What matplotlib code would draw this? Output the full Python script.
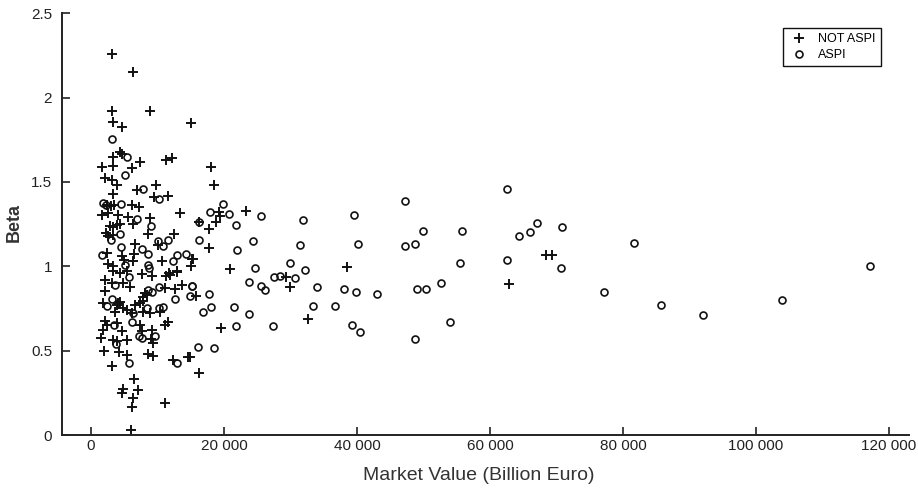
import numpy as np
import matplotlib
matplotlib.use("Agg")
import matplotlib.pyplot as plt
from matplotlib.ticker import FuncFormatter

#--- data (market value in billion euro, beta)
not_aspi_mv = [3160, 6270, 3210, 8820, 3260, 4710, 15040, 4410, 4600, 3310, 7370, 11330, 12230, 1650, 3350, 6120,
               2150, 3110, 3860, 3260, 6960, 9780, 11580, 9480, 2360, 2960, 3460, 6210, 7170, 1650, 2600, 4110,
               5610, 6360, 8870, 13390, 8620, 2860, 3360, 3860, 4360, 2260, 3260, 2600, 10030, 12530, 6620, 6510,
               2450, 4610, 4960, 10630, 15150, 2600, 3360, 6360, 11780, 12890,
               3360, 4360, 5370, 7620, 9130, 11280, 11880, 12890, 2110, 3110, 4860, 5860, 8120, 8470, 7820, 11130,
               12630, 13640, 2110, 1860, 4110, 4360, 3860, 3610, 4860, 5370, 6120, 6620, 7370, 7870, 7870, 8870,
               10380, 2110, 2360, 1860, 3860, 4610, 7370, 7620, 9130, 9030, 9280, 11130, 11630, 1460, 3360, 3860,
               5370, 1960, 4260, 5370, 8620, 9280, 3110, 12290, 14640, 6470, 4860, 4610, 7120, 6270, 6120, 11130,
               6020,
               18000, 18450, 19250, 19400, 23300, 16250, 17800, 18850, 17750, 15300, 15050, 20900, 38450, 29400,
               30000, 15800, 32600, 19550, 16300, 14900,
               68500, 69400, 62800]
not_aspi_beta = [2.26, 2.15, 1.92, 1.92, 1.855, 1.825, 1.85, 1.68, 1.663, 1.65, 1.62, 1.63, 1.643, 1.59, 1.597, 1.585,
                 1.524, 1.512, 1.48, 1.43, 1.455, 1.48, 1.417, 1.413, 1.366, 1.356, 1.366, 1.366, 1.35, 1.306, 1.316, 1.302,
                 1.293, 1.251, 1.287, 1.316, 1.192, 1.237, 1.235, 1.243, 1.251, 1.197, 1.188, 1.178, 1.128, 1.192, 1.132, 1.073,
                 1.079, 1.059, 1.039, 1.029, 1.045, 1.015, 1.0, 1.029, 0.96, 0.97,
                 0.97, 0.96, 0.97, 0.956, 0.94, 0.944, 0.95, 0.964, 0.92, 0.9, 0.9, 0.88, 0.84, 0.83, 0.82, 0.871,
                 0.865, 0.89, 0.851, 0.782, 0.78, 0.79, 0.77, 0.732, 0.752, 0.742, 0.722, 0.772, 0.782, 0.792, 0.732, 0.722,
                 0.732, 0.673, 0.653, 0.624, 0.663, 0.614, 0.653, 0.614, 0.624, 0.568, 0.548, 0.653, 0.667, 0.574, 0.564, 0.56,
                 0.564, 0.5, 0.495, 0.475, 0.481, 0.469, 0.412, 0.445, 0.465, 0.333, 0.271, 0.248, 0.267, 0.218, 0.168, 0.188,
                 0.03,
                 1.59, 1.48, 1.324, 1.30, 1.326, 1.26, 1.22, 1.26, 1.11, 1.043, 1.0, 0.984, 0.996, 0.934,
                 0.877, 0.827, 0.689, 0.637, 0.37, 0.465,
                 1.07, 1.067, 0.895]

aspi_mv = [3160, 5460, 5110, 7870, 10180, 1860, 2260, 4510, 6960, 8970, 4360, 2960, 10030, 10780, 11630, 4460,
           7670, 8620, 12890, 14290, 1610, 12290, 5110, 8620, 8770,
           5760, 3610, 8570, 9130, 10230, 15150, 12630, 2450, 3110, 6360, 8370, 10230, 10780, 3460, 6120, 7270,
           7620, 9630, 3760, 5760, 12890,
           19850, 17900, 20800, 25500, 16250, 21750, 31900, 16250, 22000, 24400, 31400, 24700, 29900, 32200,
           27600, 28500, 30700, 23800, 25500, 26100, 34000, 38100, 15200, 14900, 17800, 16800, 18000, 21500,
           23700, 33400, 36700, 21850, 27400, 16100, 18500,
           39500, 40200, 47300, 50000, 47200, 48800, 55800, 55500, 62600, 64300, 66100, 67100, 70900, 62600,
           70700, 81600, 77200, 39900, 43000, 49000, 50400, 52700, 39300, 40500, 54000, 48800,
           117200, 85700, 92000, 103900]
aspi_beta = [1.755, 1.647, 1.544, 1.459, 1.397, 1.376, 1.362, 1.372, 1.281, 1.237, 1.192, 1.158, 1.152, 1.118, 1.158, 1.112,
             1.103, 1.073, 1.065, 1.073, 1.069, 1.029, 1.01, 1.01, 0.99,
             0.936, 0.89, 0.86, 0.845, 0.877, 0.885, 0.806, 0.762, 0.806, 0.722, 0.752, 0.752, 0.758, 0.653, 0.667, 0.588,
             0.578, 0.588, 0.54, 0.426, 0.426,
             1.37, 1.32, 1.31, 1.30, 1.26, 1.247, 1.277, 1.154, 1.094, 1.148, 1.124, 0.99, 1.017, 0.976,
             0.937, 0.94, 0.928, 0.908, 0.885, 0.861, 0.879, 0.867, 0.885, 0.827, 0.837, 0.73, 0.756, 0.756,
             0.718, 0.762, 0.766, 0.647, 0.647, 0.52, 0.513,
             1.305, 1.13, 1.39, 1.21, 1.12, 1.13, 1.21, 1.02, 1.46, 1.18, 1.205, 1.257, 1.233, 1.04,
             0.99, 1.138, 0.85, 0.845, 0.837, 0.865, 0.865, 0.90, 0.65, 0.61, 0.67, 0.57,
             1.0, 0.77, 0.71, 0.80]

x_ticks = [0, 20000, 40000, 60000, 80000, 100000, 120000]
y_ticks = [0, 0.5, 1, 1.5, 2, 2.5]


def thousands(v, pos):
    return "{:,.0f}".format(v).replace(",", " ")


def ylab(v, pos):
    return "{:g}".format(v)


fig = plt.figure(figsize=(9.18, 4.91), dpi=100)
ax = fig.add_axes([0.0675, 0.114, 0.9225, 0.859])

ax.plot(not_aspi_mv, not_aspi_beta, linestyle="none", marker="+", markersize=7,
        markeredgewidth=1.4, color="#111111", label="NOT ASPI")
ax.plot(aspi_mv, aspi_beta, linestyle="none", marker="o", markersize=5,
        markeredgewidth=1.2, markerfacecolor="none", color="#111111", label="ASPI")

ax.set_xlim(-4360, 123000)
ax.set_ylim(0, 2.5)
ax.set_xticks(x_ticks)
ax.set_yticks(y_ticks)
ax.xaxis.set_major_formatter(FuncFormatter(thousands))
ax.yaxis.set_major_formatter(FuncFormatter(ylab))
ax.tick_params(direction="in", length=6, width=1.2, color="#222222", labelsize=11)
ax.tick_params(axis="x", pad=3)
ax.tick_params(axis="y", pad=7)
for lab in ax.get_xticklabels() + ax.get_yticklabels():
    lab.set_family(["Liberation Sans Narrow", "Liberation Sans"])
    lab.set_color("#222222")

for s in ["top", "right"]:
    ax.spines[s].set_visible(False)
for s in ["left", "bottom"]:
    ax.spines[s].set_linewidth(1.4)
    ax.spines[s].set_color("#222222")

# axis titles placed where the original has them
fig.text(479 / 918, 1 - 476 / 491, "Market Value (Billion Euro)", family="Liberation Sans",
         fontsize=14, color="#333333", ha="center", va="center")
fig.text(14.5 / 918, 1 - 223 / 491, "Beta", family="Liberation Sans", fontsize=13,
         fontweight="bold", color="#333333", rotation=90, ha="center", va="center")

leg = ax.legend(loc="upper right", bbox_to_anchor=(0.974, 0.98), fancybox=False, framealpha=1,
                edgecolor="#111111", prop={"family": "Liberation Sans", "size": 9},
                handlelength=1.8, handletextpad=0.6, borderpad=0.4, labelspacing=0.35)
leg.get_frame().set_linewidth(1.0)

fig.savefig("out.png", dpi=100)
